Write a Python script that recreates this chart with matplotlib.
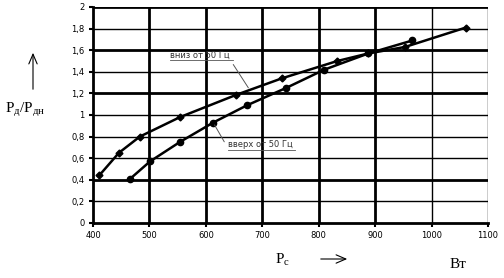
import matplotlib.pyplot as plt

plt.rcParams['mathtext.fontset'] = 'custom'
plt.rcParams['mathtext.rm'] = 'Liberation Serif'
plt.rcParams['mathtext.it'] = 'Liberation Serif:italic'

# Data
p_down = [411, 446, 483, 554, 653, 735, 833, 888, 953, 1061]
r_down = [0.44, 0.65, 0.80, 0.98, 1.185, 1.34, 1.50, 1.57, 1.63, 1.81]

p_up = [466, 501, 554, 613, 673, 742, 810, 888, 966]
r_up = [0.41, 0.57, 0.75, 0.93, 1.09, 1.25, 1.42, 1.57, 1.69]

x_ticks = [400, 500, 600, 700, 800, 900, 1000, 1100]
y_ticks = [0, 0.2, 0.4, 0.6, 0.8, 1.0, 1.2, 1.4, 1.6, 1.8, 2.0]
y_tick_labels = ['0', '0,2', '0,4', '0,6', '0,8', '1', '1,2', '1,4', '1,6', '1,8', '2']

# grid lines that came out thick in the scan
x_thick = [500, 600, 700, 800, 900]
y_thick = [0.4, 1.2, 1.6, 2.0]

fig = plt.figure(figsize=(5.04, 2.78), dpi=100)
ax = fig.add_axes([93 / 504, 1 - 223 / 278, 395 / 504, 216 / 278])

ax.set_xlim(400, 1100)
ax.set_ylim(0, 2)

# grid
for x in x_ticks[1:]:
    lw = 2.0 if x in x_thick else 1.0
    ax.axvline(x, color='black', lw=lw, zorder=1)
for y in y_ticks[1:]:
    lw = 2.0 if y in y_thick else 1.0
    ax.axhline(y, color='black', lw=lw, zorder=1)

ax.plot(p_down, r_down, color='black', lw=1.8, marker='D', markersize=3.5, zorder=3)
ax.plot(p_up, r_up, color='black', lw=1.8, marker='o', markersize=4.5, zorder=3)

ax.set_xticks(x_ticks)
ax.set_xticklabels([str(v) for v in x_ticks])
ax.set_yticks(y_ticks)
ax.set_yticklabels(y_tick_labels)
ax.tick_params(axis='both', labelsize=6, length=3, width=1.5, direction='out', pad=3)

for side in ['top', 'right']:
    ax.spines[side].set_visible(False)
ax.spines['left'].set_linewidth(2)
ax.spines['bottom'].set_linewidth(2)

# callouts
ax.annotate('вниз от 50 Гц', xy=(678, 1.23), xytext=(537, 1.515), fontsize=6,
            color='#333333', arrowprops=dict(arrowstyle='-', color='#555555', lw=0.7,
                                             relpos=(1, 0)),
            ha='left', va='bottom')
ax.annotate('вверх от 50 Гц', xy=(613, 0.93), xytext=(640, 0.685), fontsize=6,
            color='#333333', arrowprops=dict(arrowstyle='-', color='#555555', lw=0.7,
                                             relpos=(0, 0)),
            ha='left', va='bottom')
# underline the callout texts
ax.plot([537, 648], [1.505, 1.505], color='#555555', lw=0.6)
ax.plot([640, 758], [0.675, 0.675], color='#555555', lw=0.6)

# outside axis labels
fig.text(5 / 504, 1 - 110 / 278, r'Р$_{\mathrm{д}}$/Р$_{\mathrm{дн}}$', fontsize=11,
         family='Liberation Serif', va='center', ha='left')
arrow_style = '->,head_length=0.7,head_width=0.3'
ax.annotate('', xy=(33 / 504, 1 - 50 / 278), xytext=(33 / 504, 1 - 92 / 278),
            xycoords='figure fraction', textcoords='figure fraction',
            arrowprops=dict(arrowstyle=arrow_style, color='black', lw=0.8))
fig.text(275 / 504, 1 - 260 / 278, r'Р$_{\mathrm{с}}$', fontsize=11,
         family='Liberation Serif', va='center', ha='left')
ax.annotate('', xy=(350 / 504, 1 - 259 / 278), xytext=(318 / 504, 1 - 259 / 278),
            xycoords='figure fraction', textcoords='figure fraction',
            arrowprops=dict(arrowstyle=arrow_style, color='black', lw=0.8))
fig.text(450 / 504, 1 - 265 / 278, 'Вт', fontsize=11, family='Liberation Serif',
         va='center', ha='left')

fig.savefig('out.png', dpi=100)
